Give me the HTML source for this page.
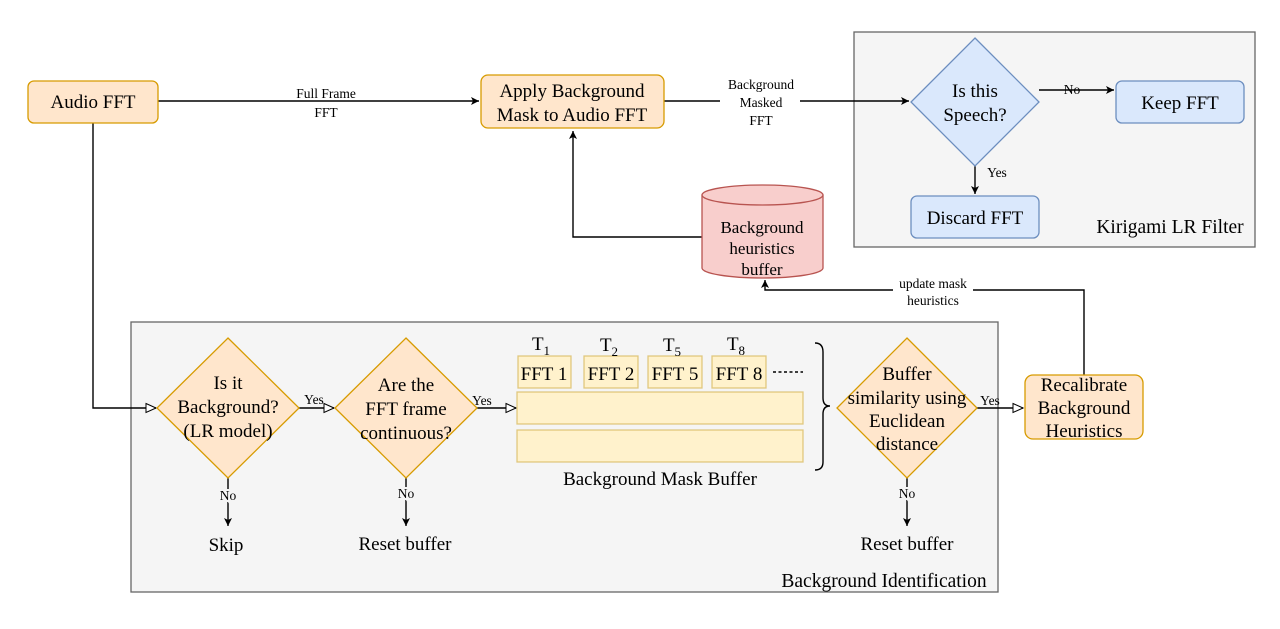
<!DOCTYPE html>
<html><head><meta charset="utf-8"><style>
html,body{margin:0;padding:0;background:#fff;}
svg{display:block;font-family:"Liberation Serif",serif;}
</style></head><body>
<svg width="1280" height="629" viewBox="0 0 1280 629" xmlns="http://www.w3.org/2000/svg">
<defs>
<marker id="a" markerWidth="10" markerHeight="10" refX="9" refY="5" orient="auto" markerUnits="userSpaceOnUse"><path d="M1,1 L9,5 L1,9 L3,5 Z" fill="#000"/></marker>
<marker id="o" markerWidth="12" markerHeight="12" refX="11" refY="6" orient="auto" markerUnits="userSpaceOnUse"><path d="M1,1.5 L11,6 L1,10.5 Z" fill="#fff" stroke="#000" stroke-width="1"/></marker>
</defs>
<rect x="854" y="32" width="401" height="215" fill="#f5f5f5" stroke="#666" stroke-width="1.3"/>
<rect x="131" y="322" width="867" height="270" fill="#f5f5f5" stroke="#666" stroke-width="1.3"/>
<g font-size="19.5" text-anchor="middle">
<text x="1170" y="233">Kirigami LR Filter</text>
<text x="884" y="587">Background Identification</text>
</g>
<g stroke="#000" stroke-width="1.4" fill="none">
<path d="M158,101 H479" marker-end="url(#a)"/>
<path d="M664,101 H909" marker-end="url(#a)"/>
<path d="M1039,90 H1114" marker-end="url(#a)"/>
<path d="M975,166 V194" marker-end="url(#a)"/>
<path d="M702,237 H573 V131" marker-end="url(#a)"/>
<path d="M93,123 V408 H156" marker-end="url(#o)"/>
<path d="M299,408 H334" marker-end="url(#o)"/>
<path d="M477,408 H516" marker-end="url(#o)"/>
<path d="M977,408 H1023" marker-end="url(#o)"/>
<path d="M1084,375 V290 H765 V280" marker-end="url(#a)"/>
<path d="M228,478 V526" marker-end="url(#a)"/>
<path d="M406,478 V526" marker-end="url(#a)"/>
<path d="M907,478 V526" marker-end="url(#a)"/>
<path d="M773,372 H803" stroke-dasharray="3,2.5"/>
<path d="M815,343 Q823,343 823,352 V398 Q823,406 830,406 Q823,406 823,414 V462 Q823,470 815,470"/>
</g>
<g font-size="13.5" text-anchor="middle">
<text x="326" y="98">Full Frame</text><text x="326" y="117">FFT</text>
<rect x="720" y="74" width="80" height="56" fill="#fff"/>
<text x="761" y="89">Background</text><text x="761" y="107">Masked</text><text x="761" y="125">FFT</text>
<text x="1072" y="94">No</text>
<text x="997" y="177">Yes</text>
<rect x="893" y="278" width="80" height="30" fill="#fff"/>
<text x="933" y="288">update mask</text><text x="933" y="305">heuristics</text>
<text x="314" y="404">Yes</text>
<text x="482" y="405">Yes</text>
<text x="990" y="405">Yes</text>
<text x="228" y="500" style="paint-order:stroke" stroke="#f5f5f5" stroke-width="4">No</text>
<text x="406" y="498" style="paint-order:stroke" stroke="#f5f5f5" stroke-width="4">No</text>
<text x="907" y="498" style="paint-order:stroke" stroke="#f5f5f5" stroke-width="4">No</text>
</g>
<g stroke-width="1.3">
<rect x="28" y="81" width="130" height="42" rx="6" fill="#ffe6cc" stroke="#d79b00"/>
<rect x="481" y="75" width="183" height="53" rx="7" fill="#ffe6cc" stroke="#d79b00"/>
<path d="M975,38 L1039,102 L975,166 L911,102 Z" fill="#dae8fc" stroke="#6c8ebf"/>
<rect x="1116" y="81" width="128" height="42" rx="6" fill="#dae8fc" stroke="#6c8ebf"/>
<rect x="911" y="196" width="128" height="42" rx="6" fill="#dae8fc" stroke="#6c8ebf"/>
<path d="M702,195 V268 A60.5,10 0 0 0 823,268 V195" fill="#f8cecc" stroke="#b85450"/>
<ellipse cx="762.5" cy="195" rx="60.5" ry="10" fill="#f8cecc" stroke="#b85450"/>
<path d="M228,338 L299,408 L228,478 L157,408 Z" fill="#ffe6cc" stroke="#d79b00"/>
<path d="M406,338 L477,408 L406,478 L335,408 Z" fill="#ffe6cc" stroke="#d79b00"/>
<path d="M907,338 L977,408 L907,478 L837,408 Z" fill="#ffe6cc" stroke="#d79b00"/>
<rect x="518" y="356" width="53" height="32" fill="#fff2cc" stroke="#d6b656" stroke-opacity=".7"/>
<rect x="584" y="356" width="54" height="32" fill="#fff2cc" stroke="#d6b656" stroke-opacity=".7"/>
<rect x="648" y="356" width="54" height="32" fill="#fff2cc" stroke="#d6b656" stroke-opacity=".7"/>
<rect x="712" y="356" width="54" height="32" fill="#fff2cc" stroke="#d6b656" stroke-opacity=".7"/>
<rect x="517" y="392" width="286" height="32" fill="#fff2cc" stroke="#d6b656" stroke-opacity=".7"/>
<rect x="517" y="430" width="286" height="32" fill="#fff2cc" stroke="#d6b656" stroke-opacity=".7"/>
<rect x="1025" y="375" width="118" height="64" rx="8" fill="#ffe6cc" stroke="#d79b00"/>
</g>
<g font-size="19" text-anchor="middle">
<text x="93" y="108">Audio FFT</text>
<text x="572" y="97">Apply Background</text><text x="572" y="121">Mask to Audio FFT</text>
<text x="975" y="97">Is this</text><text x="975" y="121">Speech?</text>
<text x="1180" y="109">Keep FFT</text>
<text x="975" y="224">Discard FFT</text>
<text x="762" y="233" font-size="17">Background</text><text x="762" y="254" font-size="17">heuristics</text><text x="762" y="275" font-size="17">buffer</text>
<text x="228" y="389">Is it</text><text x="228" y="413">Background?</text><text x="228" y="437">(LR model)</text>
<text x="406" y="391">Are the</text><text x="406" y="415">FFT frame</text><text x="406" y="439">continuous?</text>
<text x="907" y="380">Buffer</text><text x="907" y="404">similarity using</text><text x="907" y="427">Euclidean</text><text x="907" y="450">distance</text>
<text x="1084" y="391">Recalibrate</text><text x="1084" y="414">Background</text><text x="1084" y="437">Heuristics</text>
<text x="544" y="380">FFT 1</text><text x="611" y="380">FFT 2</text><text x="675" y="380">FFT 5</text><text x="739" y="380">FFT 8</text>
<text x="660" y="485">Background Mask Buffer</text>
<text x="226" y="551">Skip</text>
<text x="405" y="550">Reset buffer</text>
<text x="907" y="550">Reset buffer</text>
<text x="541" y="350">T<tspan font-size="13" dy="5">1</tspan></text>
<text x="609" y="351">T<tspan font-size="13" dy="5">2</tspan></text>
<text x="672" y="351">T<tspan font-size="13" dy="5">5</tspan></text>
<text x="736" y="350">T<tspan font-size="13" dy="5">8</tspan></text>
</g>
</svg>
</body></html>
